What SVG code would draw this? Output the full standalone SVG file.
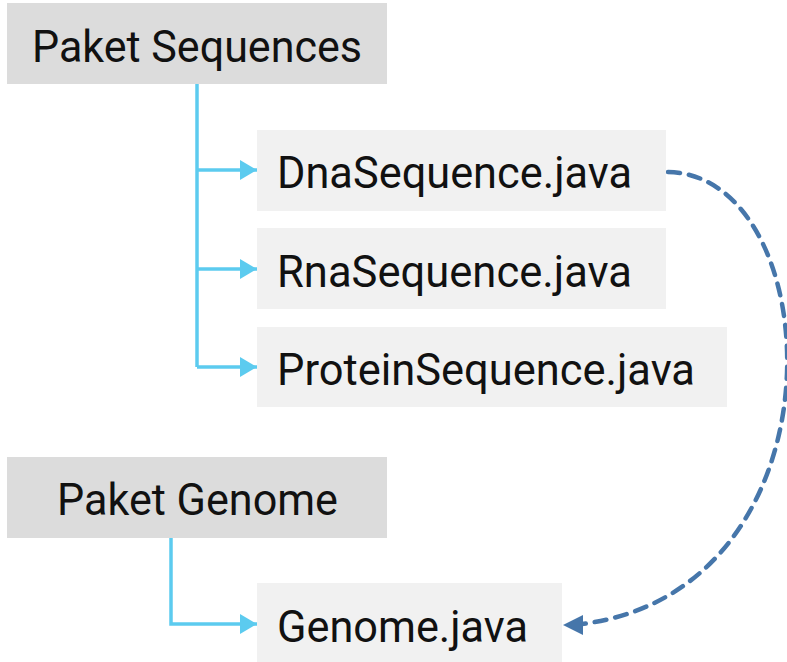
<svg xmlns="http://www.w3.org/2000/svg" width="787" height="662" viewBox="0 0 787 662">
<defs>
<style>
.pkg{fill:#dcdcdc}
.file{fill:#f1f1f1}
.t{font-family:Roboto,"Noto Sans",sans-serif;font-size:44px;fill:#111}
.c{fill:none;stroke:#5ccbef;stroke-width:3.5}
.d{fill:none;stroke:#4676aa;stroke-width:4.5;stroke-dasharray:12 9;stroke-linecap:round}
</style>
<marker id="ah" markerUnits="userSpaceOnUse" markerWidth="18" markerHeight="22" refX="17" refY="10" orient="auto" viewBox="0 0 18 22">
<path d="M0,0 L17,10 L0,20 z" fill="#5ccbef"/>
</marker>
</defs>
<rect width="787" height="662" fill="#fff"/>
<g id="connectors">
<path class="c" d="M197,84 V367"/>
<path class="c" d="M197,170 H257" marker-end="url(#ah)"/>
<path class="c" d="M197,269 H257" marker-end="url(#ah)"/>
<path class="c" d="M197,367 H257" marker-end="url(#ah)"/>
<path class="c" d="M171,538 V624 H257" marker-end="url(#ah)"/>
<path class="d" d="M668,172 C830,175 850,590 582,624"/>
<polygon points="563,625 583,615 583,635" fill="#4676aa"/>
</g>
<g id="pkg-sequences">
<rect class="pkg" x="7" y="3" width="380" height="81"/>
<text class="t" x="32" y="62" textLength="330" lengthAdjust="spacingAndGlyphs">Paket Sequences</text>
</g>
<g id="dna">
<rect class="file" x="257" y="130" width="409" height="81"/>
<text class="t" x="277" y="188" textLength="355" lengthAdjust="spacingAndGlyphs">DnaSequence.java</text>
</g>
<g id="rna">
<rect class="file" x="257" y="228" width="409" height="81"/>
<text class="t" x="277" y="287" textLength="355" lengthAdjust="spacingAndGlyphs">RnaSequence.java</text>
</g>
<g id="protein">
<rect class="file" x="257" y="327" width="470" height="80"/>
<text class="t" x="277" y="385" textLength="418" lengthAdjust="spacingAndGlyphs">ProteinSequence.java</text>
</g>
<g id="pkg-genome">
<rect class="pkg" x="7" y="457" width="380" height="81"/>
<text class="t" x="57" y="515" textLength="281" lengthAdjust="spacingAndGlyphs">Paket Genome</text>
</g>
<g id="genome">
<rect class="file" x="257" y="583" width="305" height="79"/>
<text class="t" x="277" y="642" textLength="251" lengthAdjust="spacingAndGlyphs">Genome.java</text>
</g>
</svg>
